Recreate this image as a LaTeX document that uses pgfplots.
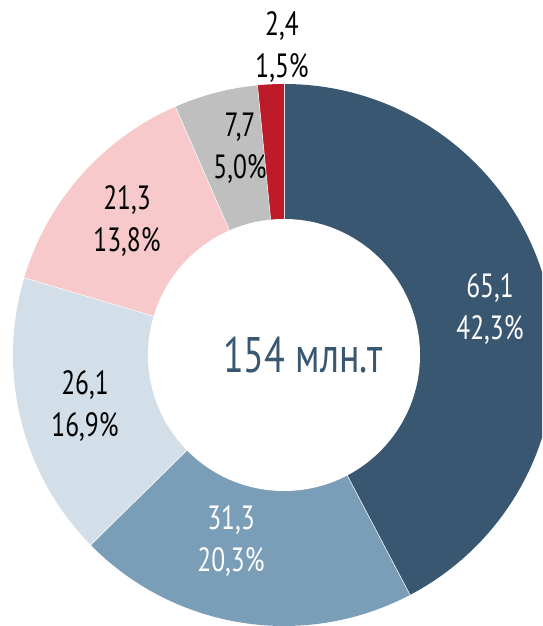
\documentclass[border=0pt]{standalone}
\usepackage{fontspec}
\setmainfont{PT Sans}[FakeStretch=0.76]
\usepackage{pgfplots}
\pgfplotsset{compat=1.18}
\definecolor{cA}{HTML}{3A5771}
\definecolor{cB}{HTML}{7A9DB8}
\definecolor{cC}{HTML}{D3DFE8}
\definecolor{cD}{HTML}{F7C9CB}
\definecolor{cE}{HTML}{BFBFBF}
\definecolor{cF}{HTML}{BE1B2A}
\begin{document}
\begin{tikzpicture}
\path[use as bounding box] (0,0) rectangle (271pt,313pt);
\begin{axis}[at={(0,0)}, anchor=south west, x=0.5pt, y=0.5pt,
  xmin=-284, xmax=258, ymin=-271, ymax=355, hide axis, clip=true,
  /pgf/number format/assume math mode=true]
\pgfplotsextra{
  \gdef\acc{90}
  \foreach \v/\p/\c/\t/\lx/\ly in {65.1/42.3/cA/white/206/46, 31.3/20.3/cB/white/-53/-186, 26.1/16.9/cC/black/-199/-51, 21.3/13.8/cD/black/-157/134, 7.7/5.0/cE/black/-44/207, 2.4/1.5/cF/black/-2/308}{
    \pgfmathsetmacro\enda{\acc-\v/153.9*360}
    \fill[\c] (axis cs:0,0) -- (axis cs:{271*cos(\acc)},{271*sin(\acc)}) arc[start angle=\acc, end angle=\enda, radius=135.5pt] -- cycle;
    \draw[white, line width=0.25pt] (axis cs:0,0) -- (axis cs:{271*cos(\acc)},{271*sin(\acc)});
    \node[text=\t, align=center, font=\fontsize{16.8}{21}\selectfont] at (axis cs:\lx,\ly) {\pgfmathprintnumber[fixed, precision=1, fixed zerofill, use comma]{\v}\\\pgfmathprintnumber[fixed, precision=1, fixed zerofill, use comma]{\p}\%};
    \xdef\acc{\enda}
  }
  \fill[white] (axis cs:0,0) circle[radius=68pt];
  \node[text=cA, font=\fontsize{25}{30}\selectfont] at (axis cs:19,0) {154 млн.т};
}
\end{axis}
\end{tikzpicture}
\end{document}
